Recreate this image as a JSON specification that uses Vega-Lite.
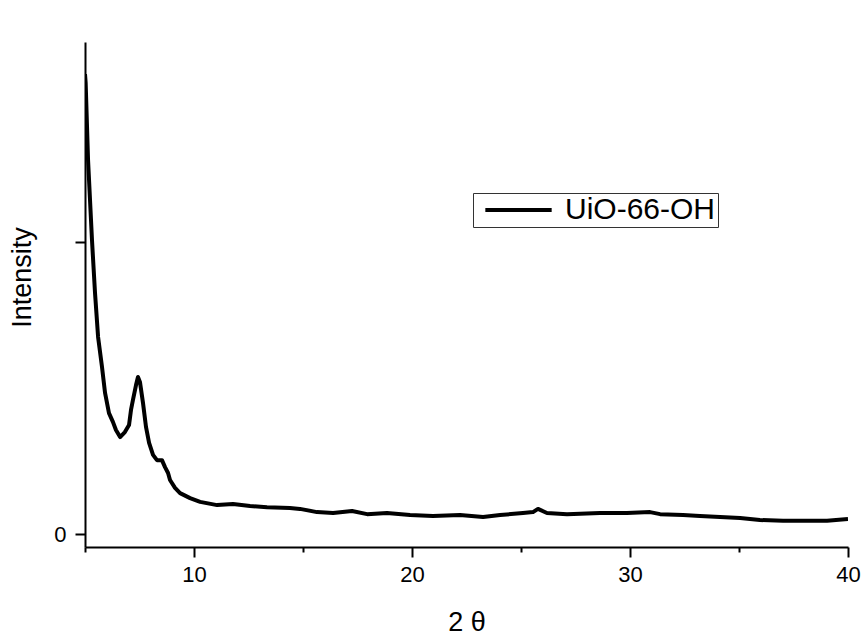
{
  "$schema": "https://vega.github.io/schema/vega-lite/v6.json",
  "autosize": {"type": "none"},
  "width": 763,
  "height": 505,
  "padding": {"left": 85, "top": 42, "right": 17, "bottom": 90},
  "background": "white",
  "config": {
    "view": {"stroke": null},
    "font": "Liberation Sans"
  },
  "data": {
    "values": [
      {"x": 5.0, "y": 1575, "series": "UiO-66-OH"},
      {"x": 5.03, "y": 1545, "series": "UiO-66-OH"},
      {"x": 5.14, "y": 1281, "series": "UiO-66-OH"},
      {"x": 5.32, "y": 1007, "series": "UiO-66-OH"},
      {"x": 5.46, "y": 825, "series": "UiO-66-OH"},
      {"x": 5.60, "y": 675, "series": "UiO-66-OH"},
      {"x": 5.78, "y": 572, "series": "UiO-66-OH"},
      {"x": 5.92, "y": 483, "series": "UiO-66-OH"},
      {"x": 6.10, "y": 414, "series": "UiO-66-OH"},
      {"x": 6.28, "y": 384, "series": "UiO-66-OH"},
      {"x": 6.42, "y": 356, "series": "UiO-66-OH"},
      {"x": 6.61, "y": 332, "series": "UiO-66-OH"},
      {"x": 6.83, "y": 349, "series": "UiO-66-OH"},
      {"x": 7.02, "y": 373, "series": "UiO-66-OH"},
      {"x": 7.11, "y": 425, "series": "UiO-66-OH"},
      {"x": 7.20, "y": 459, "series": "UiO-66-OH"},
      {"x": 7.34, "y": 510, "series": "UiO-66-OH"},
      {"x": 7.43, "y": 538, "series": "UiO-66-OH"},
      {"x": 7.52, "y": 521, "series": "UiO-66-OH"},
      {"x": 7.66, "y": 449, "series": "UiO-66-OH"},
      {"x": 7.80, "y": 366, "series": "UiO-66-OH"},
      {"x": 7.94, "y": 312, "series": "UiO-66-OH"},
      {"x": 8.12, "y": 271, "series": "UiO-66-OH"},
      {"x": 8.30, "y": 253, "series": "UiO-66-OH"},
      {"x": 8.53, "y": 253, "series": "UiO-66-OH"},
      {"x": 8.67, "y": 229, "series": "UiO-66-OH"},
      {"x": 8.81, "y": 209, "series": "UiO-66-OH"},
      {"x": 8.90, "y": 185, "series": "UiO-66-OH"},
      {"x": 9.13, "y": 158, "series": "UiO-66-OH"},
      {"x": 9.36, "y": 140, "series": "UiO-66-OH"},
      {"x": 9.82, "y": 123, "series": "UiO-66-OH"},
      {"x": 10.28, "y": 110, "series": "UiO-66-OH"},
      {"x": 11.06, "y": 99, "series": "UiO-66-OH"},
      {"x": 11.79, "y": 103, "series": "UiO-66-OH"},
      {"x": 12.57, "y": 96, "series": "UiO-66-OH"},
      {"x": 13.35, "y": 92, "series": "UiO-66-OH"},
      {"x": 14.40, "y": 89, "series": "UiO-66-OH"},
      {"x": 14.86, "y": 86, "series": "UiO-66-OH"},
      {"x": 15.64, "y": 75, "series": "UiO-66-OH"},
      {"x": 16.38, "y": 72, "series": "UiO-66-OH"},
      {"x": 17.25, "y": 79, "series": "UiO-66-OH"},
      {"x": 17.94, "y": 68, "series": "UiO-66-OH"},
      {"x": 18.85, "y": 72, "series": "UiO-66-OH"},
      {"x": 19.91, "y": 65, "series": "UiO-66-OH"},
      {"x": 20.96, "y": 62, "series": "UiO-66-OH"},
      {"x": 22.20, "y": 65, "series": "UiO-66-OH"},
      {"x": 23.26, "y": 58, "series": "UiO-66-OH"},
      {"x": 24.04, "y": 65, "series": "UiO-66-OH"},
      {"x": 25.09, "y": 72, "series": "UiO-66-OH"},
      {"x": 25.55, "y": 75, "series": "UiO-66-OH"},
      {"x": 25.78, "y": 86, "series": "UiO-66-OH"},
      {"x": 26.19, "y": 72, "series": "UiO-66-OH"},
      {"x": 27.11, "y": 68, "series": "UiO-66-OH"},
      {"x": 28.62, "y": 72, "series": "UiO-66-OH"},
      {"x": 29.86, "y": 72, "series": "UiO-66-OH"},
      {"x": 30.92, "y": 75, "series": "UiO-66-OH"},
      {"x": 31.38, "y": 68, "series": "UiO-66-OH"},
      {"x": 32.43, "y": 65, "series": "UiO-66-OH"},
      {"x": 33.21, "y": 62, "series": "UiO-66-OH"},
      {"x": 34.13, "y": 58, "series": "UiO-66-OH"},
      {"x": 35.05, "y": 55, "series": "UiO-66-OH"},
      {"x": 35.96, "y": 48, "series": "UiO-66-OH"},
      {"x": 37.02, "y": 45, "series": "UiO-66-OH"},
      {"x": 38.12, "y": 45, "series": "UiO-66-OH"},
      {"x": 39.04, "y": 45, "series": "UiO-66-OH"},
      {"x": 40.0, "y": 51, "series": "UiO-66-OH"}
    ]
  },
  "mark": {"type": "line", "strokeWidth": 4, "strokeJoin": "round", "clip": true},
  "encoding": {
    "x": {
      "field": "x",
      "type": "quantitative",
      "scale": {"domain": [5, 40], "nice": false, "zero": false},
      "axis": {
        "title": "2 θ",
        "titleFontSize": 27,
        "titleFontWeight": "normal",
        "titleColor": "black",
        "titleBaseline": "middle",
        "titleY": 75,
        "values": [5, 10, 15, 20, 25, 30, 35, 40],
        "labelExpr": "datum.value % 10 === 0 ? datum.label : ''",
        "labelFontSize": 22,
        "labelColor": "black",
        "labelPadding": 7,
        "labelFlush": false,
        "labelOverlap": false,
        "grid": false,
        "domainColor": "black",
        "domainWidth": 2,
        "tickColor": "black",
        "tickWidth": 2,
        "tickSize": 10,
        "tickDash": {"condition": {"test": "datum.value % 10 === 0", "value": [10, 0]}, "value": [5, 20]}
      }
    },
    "y": {
      "field": "y",
      "type": "quantitative",
      "scale": {"domain": [-44.5, 1685], "nice": false, "zero": false},
      "axis": {
        "title": "Intensity",
        "titleFontSize": 27,
        "titleFontWeight": "normal",
        "titleColor": "black",
        "titleAngle": -90,
        "titleAlign": "center",
        "titleBaseline": "middle",
        "titleX": -63,
        "titleY": 235,
        "values": [0, 1000],
        "labelExpr": "datum.value === 0 ? '0' : ''",
        "labelFontSize": 22,
        "labelColor": "black",
        "labelPadding": 9,
        "grid": false,
        "domainColor": "black",
        "domainWidth": 2,
        "tickColor": "black",
        "tickWidth": 2,
        "tickSize": 10
      }
    },
    "color": {
      "field": "series",
      "type": "nominal",
      "scale": {"range": ["black"]},
      "legend": {
        "title": null,
        "orient": "none",
        "legendX": 388,
        "legendY": 151,
        "strokeColor": "#333333",
        "fillColor": "white",
        "padding": 2,
        "clipHeight": 30,
        "symbolType": "stroke",
        "symbolStrokeWidth": 4,
        "symbolSize": 4400,
        "symbolOffset": 8,
        "labelFontSize": 30,
        "labelColor": "black",
        "labelOffset": 11
      }
    }
  }
}
